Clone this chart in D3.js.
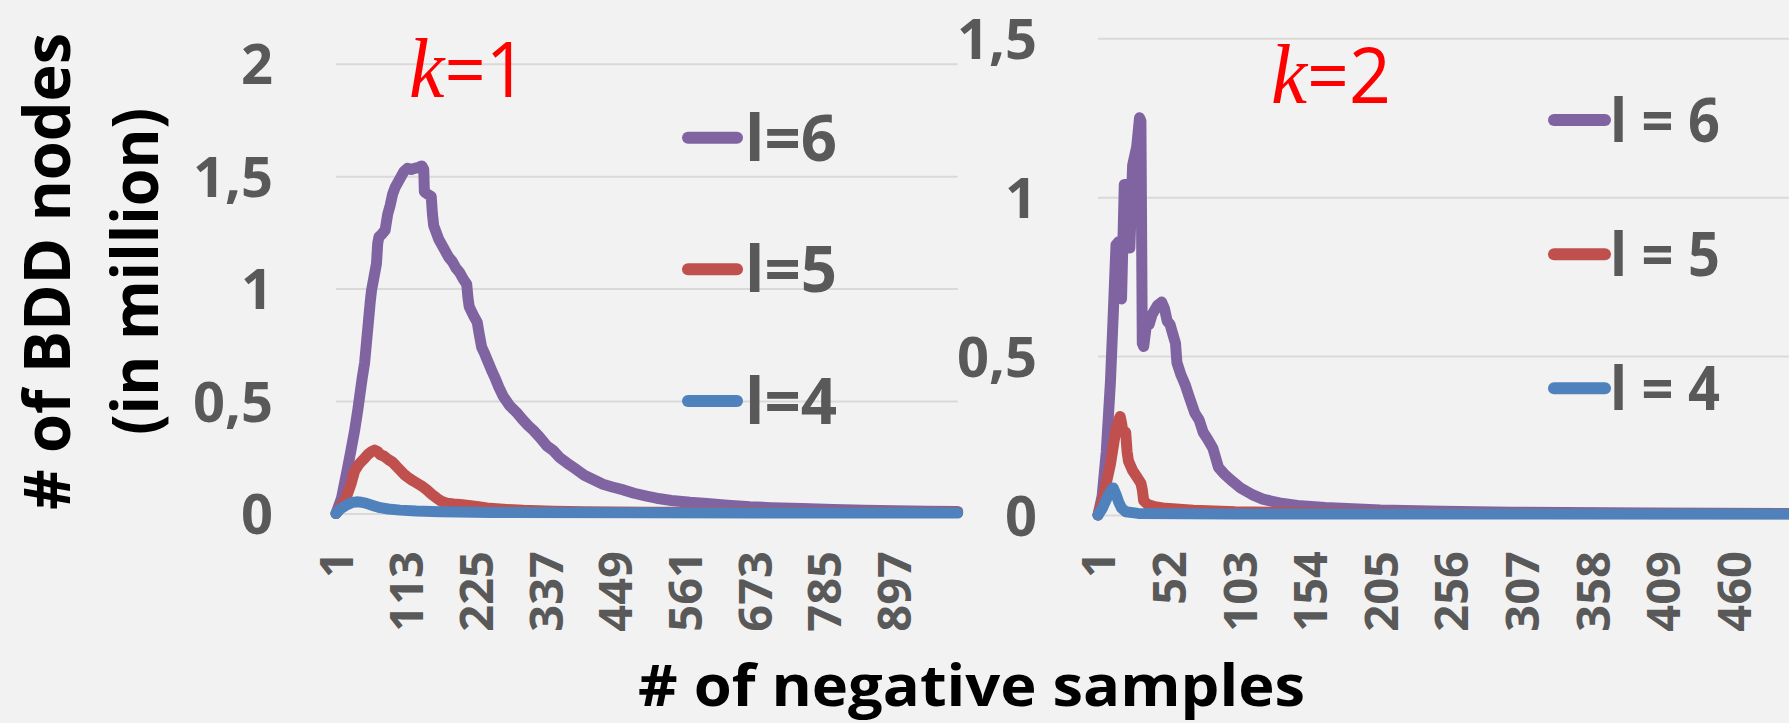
<!DOCTYPE html>
<html><head><meta charset="utf-8">
<script src="https://cdn.jsdelivr.net/npm/d3@7"></script>
<style>
html,body{margin:0;padding:0;background:#f2f2f2;}
svg{display:block;}
text{font-family:"Open Sans","Noto Sans",sans-serif;}
</style></head><body>
<svg id="chart" width="1789" height="723"></svg>
<script>
// ---------- data ----------
const seriesNamesK1 = ["l=6", "l=5", "l=4"];
const seriesNamesK2 = ["l = 6", "l = 5", "l = 4"];
const seriesColors = ["#8064A2", "#C0504D", "#4F81BD"];
const yTicksK1 = [0, 0.5, 1, 1.5, 2];
const yTicksK2 = [0, 0.5, 1, 1.5];
const k1Count = 1000, k1TickStep = 112;
const k2Count = 500, k2TickStep = 51;
const panelTitles = ["1", "2"];

// k=1, l=6
const k1L6x = [1,10,18,25,31,36,39,43,47,50,53,56,58,62,66,68,70,74,80,84,88,92,96,102,106,110,116,122,128,134,139,142,143,148,154,156,158,162,166,170,176,182,188,194,200,206,211,213,215,222,228,231,235,240,246,252,257,263,270,280,291,300,310,318,328,340,350,360,372,385,400,415,430,445,463,480,500,516,540,570,597,630,666,700,750,800,850,900,950,1000];
const k1L6 = [0,0.07,0.18,0.28,0.37,0.46,0.52,0.6,0.67,0.76,0.85,0.94,0.99,1.05,1.11,1.2,1.23,1.24,1.26,1.33,1.37,1.42,1.45,1.48,1.5,1.52,1.535,1.53,1.535,1.54,1.545,1.53,1.43,1.42,1.41,1.33,1.28,1.25,1.22,1.2,1.17,1.14,1.12,1.09,1.07,1.04,1.02,0.96,0.92,0.88,0.85,0.8,0.74,0.71,0.67,0.63,0.6,0.56,0.52,0.48,0.45,0.42,0.39,0.37,0.34,0.3,0.28,0.25,0.225,0.2,0.17,0.15,0.13,0.118,0.105,0.09,0.077,0.068,0.058,0.05,0.045,0.037,0.03,0.026,0.022,0.018,0.015,0.012,0.01,0.009];
// k=1, l=5
const k1L5x = [1,10,18,25,31,38,45,52,58,63,68,72,78,85,92,98,105,110,115,122,131,140,147,155,163,170,179,190,200,211,230,248,275,302,350,400,500,700,1000];
const k1L5 = [0,0.035,0.075,0.13,0.19,0.22,0.24,0.262,0.275,0.282,0.275,0.262,0.255,0.24,0.228,0.21,0.19,0.175,0.164,0.15,0.135,0.12,0.105,0.085,0.068,0.055,0.046,0.042,0.04,0.037,0.03,0.023,0.018,0.014,0.01,0.008,0.006,0.005,0.004];
// k=1, l=4
const k1L4x = [1,8,18,26,34,42,50,60,72,85,104,130,168,250,500,1000];
const k1L4 = [0,0.02,0.038,0.048,0.052,0.05,0.045,0.036,0.026,0.02,0.015,0.011,0.008,0.005,0.003,0.002];

// k=2, l=6
const k2L6x = [1,4,7,10,12,14,16,17,18,20,22,23,24,26,29,31,32,33,34,36,38,40,44,47,49,51,53,55,57,58,61,64,67,71,74,77,80,84,88,92,97,104,112,120,132,145,165,185,205,250,300,400,500];
const k2L6 = [0,0.06,0.2,0.42,0.63,0.85,0.86,0.75,0.68,1.04,1.04,0.85,0.84,1.1,1.16,1.25,1.24,0.54,0.53,0.6,0.6,0.63,0.66,0.67,0.65,0.61,0.6,0.57,0.54,0.48,0.44,0.41,0.37,0.32,0.3,0.26,0.24,0.21,0.15,0.13,0.11,0.085,0.065,0.05,0.038,0.03,0.024,0.02,0.016,0.012,0.009,0.006,0.005];
// k=2, l=5
const k2L5x = [1,5,10,14,16,17,18,19,21,22,23,26,29,32,33,34,37,42,50,70,100,150,250,500];
const k2L5 = [0,0.06,0.16,0.27,0.3,0.31,0.29,0.26,0.26,0.2,0.17,0.14,0.12,0.1,0.08,0.045,0.033,0.026,0.021,0.015,0.01,0.007,0.005,0.004];
// k=2, l=4
const k2L4x = [1,4,8,11,12,14,16,18,21,30,100,500];
const k2L4 = [0,0.02,0.058,0.08,0.085,0.065,0.04,0.022,0.01,0.005,0.003,0.003];

// ---------- drawing ----------
const svg = d3.select("#chart");
svg.append("rect").attr("width", 1789).attr("height", 723).attr("fill", "#f2f2f2");

const fmt = d => String(d).replace(".", ",");

function drawPanel(cfg) {
  const x = d3.scaleLinear().domain([1, cfg.count]).range([cfg.x0, cfg.x1]);
  const y = d3.scaleLinear().domain([0, cfg.yMax]).range([cfg.yBase, cfg.yTop]);
  const g = svg.append("g");

  // gridlines
  const grid = g.append("g").attr("transform", `translate(${cfg.x0},0)`)
    .call(d3.axisLeft(y).tickValues(cfg.yTicks).tickSize(-(cfg.x1 - cfg.x0)).tickFormat(""));
  grid.select(".domain").remove();
  grid.selectAll("line").attr("stroke", "#d9d9d9").attr("stroke-width", 2);

  // y labels
  const ya = g.append("g").attr("transform", `translate(${cfg.x0},0)`)
    .call(d3.axisLeft(y).tickValues(cfg.yTicks).tickSize(0).tickPadding(cfg.yPad).tickFormat(fmt));
  ya.select(".domain").remove();
  ya.selectAll("text").attr("font-family", '"Open Sans", sans-serif').attr("font-size", 56)
    .attr("font-weight", 700).attr("fill", "#595959").attr("dy", "0.36em");

  // x labels
  const xt = d3.range(1, cfg.count + 1, cfg.tickStep);
  const xa = g.append("g").attr("transform", `translate(0,551)`)
    .call(d3.axisBottom(x).tickValues(xt).tickSize(0).tickFormat(d => d));
  xa.select(".domain").remove();
  xa.selectAll("text").attr("font-family", '"Open Sans", sans-serif').attr("font-size", 47)
    .attr("font-weight", 700).attr("fill", "#595959")
    .attr("x", 0).attr("y", 0).attr("dy", "0.36em")
    .attr("text-anchor", "end").attr("transform", "rotate(-90)");

  // lines
  const line = d3.line().x(d => x(d[0])).y(d => y(d[1]));
  cfg.series.forEach((s, i) => {
    g.append("path").datum(d3.zip(s[0], s[1])).attr("d", line)
      .attr("fill", "none").attr("stroke", seriesColors[i]).attr("stroke-width", 11)
      .attr("stroke-linejoin", "round").attr("stroke-linecap", "round");
  });

  // title k=n
  const t = g.append("text").attr("x", cfg.titleX).attr("y", cfg.titleY).attr("fill", "#ff0000")
    .attr("textLength", cfg.titleLen).attr("lengthAdjust", "spacingAndGlyphs");
  t.append("tspan").attr("font-family", '"Liberation Serif", serif').attr("font-style", "italic")
    .attr("font-size", 84).text("k");
  t.append("tspan").attr("font-family", '"Open Sans", sans-serif').attr("font-size", 76).text("=" + cfg.title);

  // legend
  cfg.legendY.forEach((ly, i) => {
    g.append("line").attr("x1", cfg.legX1).attr("x2", cfg.legX2).attr("y1", ly).attr("y2", ly)
      .attr("stroke", seriesColors[i]).attr("stroke-width", 12).attr("stroke-linecap", "round");
    g.append("text").attr("x", cfg.legTextX).attr("y", ly).attr("dy", "0.36em")
      .attr("font-size", cfg.legFont).attr("font-weight", 700).attr("fill", "#595959")
      .attr("textLength", cfg.legLen).attr("lengthAdjust", "spacingAndGlyphs")
      .text(cfg.names[i]);
  });
}

drawPanel({
  count: k1Count, tickStep: k1TickStep, x0: 336, x1: 957.7, yBase: 513.5, yTop: 63.7, yMax: 2,
  yTicks: yTicksK1, yPad: 63,
  series: [[k1L6x, k1L6], [k1L5x, k1L5], [k1L4x, k1L4]],
  title: panelTitles[0], titleX: 409, titleY: 97, titleLen: 118,
  legendY: [137.7, 269.3, 401], legX1: 688, legX2: 737, legTextX: 745, legFont: 64, legLen: 92,
  names: seriesNamesK1
});
drawPanel({
  count: k2Count, tickStep: k2TickStep, x0: 1098, x1: 1098 + 499 * 1.3843, yBase: 515, yTop: 38.3, yMax: 1.5,
  yTicks: yTicksK2, yPad: 61,
  series: [[k2L6x, k2L6], [k2L5x, k2L5], [k2L4x, k2L4]],
  title: panelTitles[1], titleX: 1271, titleY: 103, titleLen: 120,
  legendY: [120, 254.3, 388.3], legX1: 1554, legX2: 1605, legTextX: 1610, legFont: 60, legLen: 110,
  names: seriesNamesK2
});

// axis titles
svg.append("text").attr("transform", "translate(70,271.5) rotate(-90)")
  .attr("text-anchor", "middle").attr("font-size", 64).attr("font-weight", 700).attr("fill", "#000")
  .attr("textLength", 477).attr("lengthAdjust", "spacingAndGlyphs").text("# of BDD nodes");
svg.append("text").attr("transform", "translate(158,271.5) rotate(-90)")
  .attr("text-anchor", "middle").attr("font-size", 64).attr("font-weight", 700).attr("fill", "#000")
  .attr("textLength", 327).attr("lengthAdjust", "spacingAndGlyphs").text("(in million)");
svg.append("text").attr("x", 971.5).attr("y", 706)
  .attr("text-anchor", "middle").attr("font-size", 58).attr("font-weight", 700).attr("fill", "#000")
  .attr("textLength", 667).attr("lengthAdjust", "spacingAndGlyphs").text("# of negative samples");
</script>
</body></html>
